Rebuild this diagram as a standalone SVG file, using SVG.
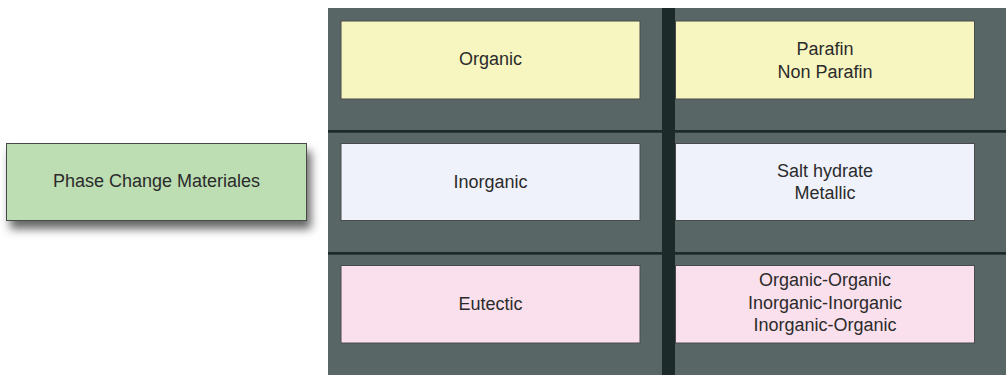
<svg xmlns="http://www.w3.org/2000/svg" width="1006" height="375" viewBox="0 0 1006 375">
<style>
.box{stroke:#4a4a4a;stroke-width:1}
.t{font-family:"Liberation Sans",Arial,sans-serif;font-size:18px;fill:#2b2b2b;text-anchor:middle}
</style>
<defs>
<filter id="sh" x="-20%" y="-30%" width="150%" height="180%">
<feDropShadow dx="4" dy="8" stdDeviation="5" flood-color="#000" flood-opacity="0.6"/>
</filter>
</defs>
<rect width="1006" height="375" fill="#ffffff"/>
<g id="panel">
<rect x="328" y="8" width="678" height="367" fill="#586766"/>
<rect x="328" y="130" width="678" height="2.7" fill="#1d2a2a"/>
<rect x="328" y="252" width="678" height="2.7" fill="#1d2a2a"/>
<rect x="662" y="8" width="13" height="367" fill="#1d2a2a"/>
</g>
<g id="connectors"></g>
<g id="pcm">
<rect class="box" x="6.5" y="143.5" width="300" height="77" fill="#bddeb2" filter="url(#sh)"/>
<text class="t" x="156.5" y="187">Phase Change Materiales</text>
</g>
<g id="organic">
<rect class="box" x="341" y="21" width="299" height="78" fill="#f7f6c0"/>
<text class="t" x="490.5" y="65">Organic</text>
</g>
<g id="organic-types">
<rect class="box" x="675.5" y="21" width="299" height="78" fill="#f7f6c0"/>
<text class="t" x="825" y="55">Parafin</text>
<text class="t" x="825" y="77.5">Non Parafin</text>
</g>
<g id="inorganic">
<rect class="box" x="341" y="143.5" width="299" height="77" fill="#eff2fb"/>
<text class="t" x="490.5" y="187.5">Inorganic</text>
</g>
<g id="inorganic-types">
<rect class="box" x="675.5" y="143.5" width="299" height="77" fill="#eff2fb"/>
<text class="t" x="825" y="177">Salt hydrate</text>
<text class="t" x="825" y="199">Metallic</text>
</g>
<g id="eutectic">
<rect class="box" x="341" y="265.5" width="299" height="77.5" fill="#fae0ec"/>
<text class="t" x="490.5" y="309.5">Eutectic</text>
</g>
<g id="eutectic-types">
<rect class="box" x="675.5" y="265.5" width="299" height="77.5" fill="#fae0ec"/>
<text class="t" x="825" y="286">Organic-Organic</text>
<text class="t" x="825" y="308.5">Inorganic-Inorganic</text>
<text class="t" x="825" y="331">Inorganic-Organic</text>
</g>
</svg>
